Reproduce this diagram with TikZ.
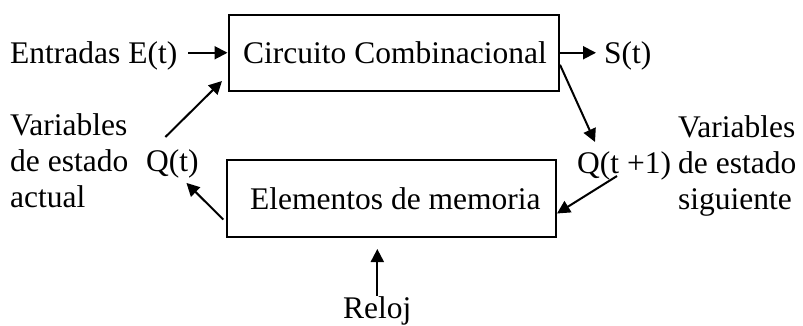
\documentclass[tikz,border=0pt]{standalone}
\usepackage{fontspec}
\setmainfont{Liberation Serif}
\usetikzlibrary{arrows.meta,calc}

\begin{document}
\begin{tikzpicture}[x=1pt, y=-1pt,
  every node/.style={font=\fontsize{31.5}{36}\selectfont},
  caja/.style={draw=black, line width=2pt, inner sep=0pt},
  texto/.style={inner sep=0pt, anchor=base west},
  flecha/.style={line width=2pt, -{Triangle[length=13pt,width=13pt]}}]
\useasboundingbox (0,0) rectangle (803,325);
% cajas
\node[caja, minimum width=330.5pt, minimum height=76.5pt] (comb) at (393.75,52.75) {};
\node[caja, minimum width=328.7pt, minimum height=77pt] (mem) at (391.65,198.5) {};
\node[texto] (combtxt) at (243,63) {Circuito Combinacional};
\node[texto] (memtxt) at (250,209) {Elementos de memoria};
% textos
\node[texto] (ent) at (10,63) {Entradas E(t)};
\node[texto] (st) at (604,63) {S(t)};
\node[texto] (varact1) at (10,135) {Variables};
\node[texto] (varact2) at (10,171) {de estado};
\node[texto] (varact3) at (10,207) {actual};
\node[texto] (qact) at (146,171) {Q(t)};
\node[texto] (qsig) at (577,173) {Q(t +1)};
\node[texto] (varsig1) at (678,137) {Variables};
\node[texto] (varsig2) at (678,173) {de estado};
\node[texto] (varsig3) at (678,209) {siguiente};
\node[texto] (reloj) at (343,318) {Reloj};
% flechas
\draw[flecha] ($(ent.east |- comb.west)+(11,0)$) -- (comb.west);
\draw[flecha] (comb.east) -- ($(st.west |- comb.east)+(-8,0)$);
\draw[flecha] ($(comb.east)+(0,12)$) -- ($(qsig.north west)+(18,-9)$);
\draw[flecha] ($(qsig.base west)+(40,3)$) -- ($(mem.east)+(0,15)$);
\draw[flecha] ($(mem.west)+(-3,21)$) -- ($(qact.south)+(14,5)$);
\draw[flecha] ($(qact.north)+(-7,-12)$) -- ($(comb.south west)+(-5.5,-11)$);
\draw[flecha] (reloj.north) -- ($(reloj.north |- mem.south)+(0,11)$);
\end{tikzpicture}
\end{document}
